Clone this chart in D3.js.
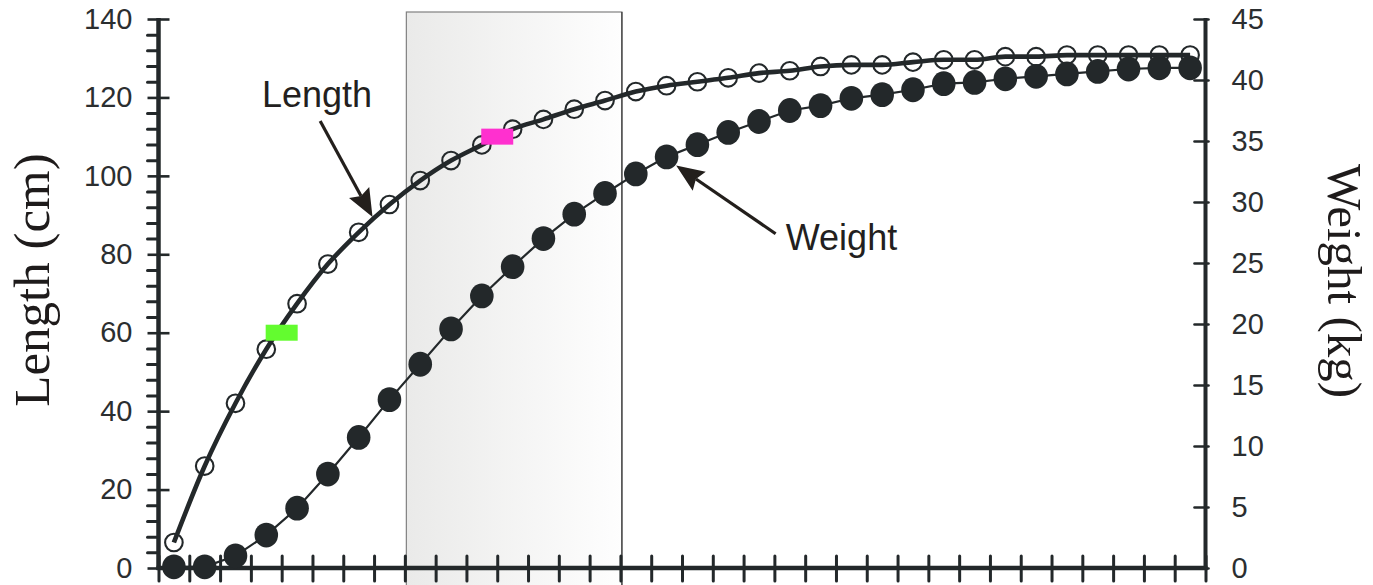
<!DOCTYPE html>
<html>
<head>
<meta charset="utf-8">
<script src="https://cdn.jsdelivr.net/npm/d3@7"></script>
<style>
  html, body { margin: 0; padding: 0; background: #ffffff; }
  svg { display: block; }
</style>
</head>
<body>
<svg id="chart" width="1373" height="585"></svg>
<script>
// Age (x position of each measurement, mid-interval)
const ages = [0.5, 1.5, 2.5, 3.5, 4.5, 5.5, 6.5, 7.5, 8.5, 9.5,
              10.5, 11.5, 12.5, 13.5, 14.5, 15.5, 16.5, 17.5, 18.5, 19.5,
              20.5, 21.5, 22.5, 23.5, 24.5, 25.5, 26.5, 27.5, 28.5, 29.5,
              30.5, 31.5, 32.5, 33.5];

// Body length (cm)
const lengthCm = [6.5, 26.0, 42.0, 55.8, 67.4, 77.5, 85.6, 92.7, 98.8, 103.9,
                  107.9, 111.9, 114.4, 117.0, 119.2, 121.5, 123.0, 124.0, 125.0, 126.2,
                  126.8, 127.9, 128.3, 128.3, 129.0, 129.6, 129.6, 130.4, 130.4, 130.8,
                  130.8, 130.8, 130.8, 130.8];

// Body weight (kg)
const weightKg = [0.1, 0.1, 1.0, 2.7, 4.9, 7.7, 10.7, 13.8, 16.7, 19.6,
                  22.3, 24.7, 27.0, 29.0, 30.7, 32.3, 33.7, 34.7, 35.7, 36.6,
                  37.5, 37.9, 38.5, 38.8, 39.2, 39.7, 39.8, 40.1, 40.3, 40.5,
                  40.7, 40.9, 41.0, 41.0];

// Tick values
const lengthTicks = [0, 20, 40, 60, 80, 100, 120, 140];
const lengthMinorTicks = [4, 8, 12, 16, 24, 28, 32, 36, 44, 48, 52, 56, 64, 68, 72, 76,
                          84, 88, 92, 96, 104, 108, 112, 116, 124, 128, 132, 136];
const weightTicks = [0, 5, 10, 15, 20, 25, 30, 35, 40, 45];
const ageTicks = [0, 1, 2, 3, 4, 5, 6, 7, 8, 9, 10, 11, 12, 13, 14, 15, 16, 17,
                  18, 19, 20, 21, 22, 23, 24, 25, 26, 27, 28, 29, 30, 31, 32, 33, 34];

// Shaded age window and the two highlighted length marks
const shadedAges = [8, 15];
const highlightAges = [4, 11];
const highlightLengths = [60, 110];

// Labels
const axisTitles = ["Length (cm)", "Weight (kg)"];
const seriesLabels = ["Length", "Weight"];
// Annotation anchors in data units: [labelAge, labelValue, tailAge, tailValue, tipAge, tipValue]
const lengthNote = [3.36, 117.6, 5.25, 114.0, 6.95, 89.5];
const weightNote = [20.37, 26.1, 20.04, 27.4, 16.81, 33.0];

const svg = d3.select("#chart");
const ink = "#23282a";
const sans = "'Liberation Sans', Arial, sans-serif";
const serif = "'Liberation Serif', 'Times New Roman', serif";

const x = d3.scaleLinear().domain([0, 34]).range([158.5, 1205.5]);
const yL = d3.scaleLinear().domain([0, 140]).range([568, 19]);
const yR = d3.scaleLinear().domain([0, 45]).range([568, 19]);

// Shaded window with a left-to-right fade
const defs = svg.append("defs");
const grad = defs.append("linearGradient").attr("id", "shade")
  .attr("x1", "0%").attr("x2", "100%").attr("y1", "0%").attr("y2", "0%");
grad.append("stop").attr("offset", "0%").attr("stop-color", "#eaeae9");
grad.append("stop").attr("offset", "100%").attr("stop-color", "#fefefe");

const boxTop = 12;
svg.append("rect")
  .attr("x", x(shadedAges[0]) + 1.5).attr("y", boxTop)
  .attr("width", x(shadedAges[1]) - x(shadedAges[0]))
  .attr("height", 620 - boxTop)
  .attr("fill", "url(#shade)")
  .attr("stroke", "#808080").attr("stroke-width", 1.2);
svg.append("line")
  .attr("x1", x(shadedAges[1]) + 1.5).attr("x2", x(shadedAges[1]) + 1.5)
  .attr("y1", boxTop).attr("y2", 620)
  .attr("stroke", "#2e2e2e").attr("stroke-width", 1.1);

// Left axis (length)
const gL = svg.append("g").attr("transform", `translate(${x(0)},0)`);
gL.call(d3.axisLeft(yL).tickValues(lengthMinorTicks).tickSize(11).tickFormat(""))
  .call(g => g.select(".domain").remove());
gL.selectAll(".tick line").attr("stroke", ink).attr("stroke-width", 3).attr("stroke-linecap", "round");
const gLM = svg.append("g").attr("transform", `translate(${x(0)},0)`);
gLM.call(d3.axisLeft(yL).tickValues(lengthTicks).tickSize(11).tickPadding(15).tickFormat(d3.format("d")))
  .call(g => g.select(".domain").remove());
gLM.selectAll(".tick line").attr("x1", 11).attr("x2", -11)
  .attr("stroke", ink).attr("stroke-width", 2.6);
gLM.selectAll(".tick text").attr("font-family", sans).attr("font-size", 29).attr("fill", "#2b2e30");

// Right axis (weight)
const gR = svg.append("g").attr("transform", `translate(${x(34)},0)`);
gR.call(d3.axisRight(yR).tickValues(weightTicks).tickSize(3).tickPadding(23).tickFormat(d3.format("d")))
  .call(g => g.select(".domain").remove());
gR.selectAll(".tick line").attr("x1", -11).attr("x2", 3)
  .attr("stroke", ink).attr("stroke-width", 2.6).attr("stroke-linecap", "round");
gR.selectAll(".tick text").attr("font-family", sans).attr("font-size", 29).attr("fill", "#2b2e30");

// Bottom axis (age)
const gB = svg.append("g").attr("transform", `translate(0,${yL(0)})`);
gB.call(d3.axisBottom(x).tickValues(ageTicks).tickSize(13).tickFormat(""))
  .call(g => g.select(".domain").remove());
gB.selectAll(".tick line").attr("y1", -12).attr("y2", 13)
  .attr("stroke", ink).attr("stroke-width", 3).attr("stroke-linecap", "round");

// Axis spines
svg.append("line").attr("x1", x(0)).attr("x2", x(0)).attr("y1", yL(140) - 1).attr("y2", yL(0) + 2)
  .attr("stroke", ink).attr("stroke-width", 4.5);
svg.append("line").attr("x1", x(34)).attr("x2", x(34)).attr("y1", yR(45) - 1).attr("y2", yR(0) + 2)
  .attr("stroke", ink).attr("stroke-width", 4);
svg.append("line").attr("x1", x(0) - 2).attr("x2", x(34) + 2).attr("y1", yL(0)).attr("y2", yL(0))
  .attr("stroke", ink).attr("stroke-width", 4.5);

const lenData = ages.map((a, i) => ({ a, v: lengthCm[i] }));
const wtData = ages.map((a, i) => ({ a, v: weightKg[i] }));

// Length curve and open markers
svg.append("path").datum(lenData)
  .attr("d", d3.line().x(d => x(d.a)).y(d => yL(d.v)).curve(d3.curveMonotoneX))
  .attr("fill", "none").attr("stroke", ink).attr("stroke-width", 4.6);
svg.append("g").selectAll("circle").data(lenData).join("circle")
  .attr("cx", d => x(d.a)).attr("cy", d => yL(d.v)).attr("r", 8.8)
  .attr("fill", "none").attr("stroke", ink).attr("stroke-width", 2.1);

// Weight line and filled markers
svg.append("path").datum(wtData)
  .attr("d", d3.line().x(d => x(d.a)).y(d => yR(d.v)))
  .attr("fill", "none").attr("stroke", ink).attr("stroke-width", 2.2);
svg.append("g").selectAll("ellipse").data(wtData).join("ellipse")
  .attr("cx", d => x(d.a)).attr("cy", d => yR(d.v)).attr("rx", 11.8).attr("ry", 12.4)
  .attr("fill", ink);

// Highlighted lengths
const hlColors = ["#63fc2f", "#ff30cf"];
svg.append("g").selectAll("rect").data(highlightAges).join("rect")
  .attr("x", (d, i) => x(d) - 16).attr("y", (d, i) => yL(highlightLengths[i]) - 8)
  .attr("width", 32).attr("height", 16)
  .attr("fill", (d, i) => hlColors[i]);

// Annotation arrows
function arrow(x0, y0, x1, y1) {
  const dx = x1 - x0, dy = y1 - y0, len = Math.hypot(dx, dy);
  const ux = dx / len, uy = dy / len, px = -uy, py = ux;
  const headLen = 28, half = 11.5, notch = 4;
  const bx = x1 - ux * headLen, by = y1 - uy * headLen;
  svg.append("line").attr("x1", x0).attr("y1", y0)
    .attr("x2", bx + ux * notch).attr("y2", by + uy * notch)
    .attr("stroke", "#231f1c").attr("stroke-width", 3.2);
  const pts = [[x1, y1], [bx + px * half, by + py * half],
               [bx + ux * notch, by + uy * notch], [bx - px * half, by - py * half]];
  svg.append("polygon").attr("points", pts.map(p => p.join(",")).join(" "))
    .attr("fill", "#231f1c");
}
arrow(x(lengthNote[2]), yL(lengthNote[3]), x(lengthNote[4]), yL(lengthNote[5]));
arrow(x(weightNote[2]), yR(weightNote[3]), x(weightNote[4]), yR(weightNote[5]));

svg.append("text").attr("x", x(lengthNote[0])).attr("y", yL(lengthNote[1]))
  .attr("font-family", sans).attr("font-size", 36).attr("fill", "#231f20")
  .text(seriesLabels[0]);
svg.append("text").attr("x", x(weightNote[0])).attr("y", yR(weightNote[1]))
  .attr("font-family", sans).attr("font-size", 36).attr("fill", "#231f20")
  .text(seriesLabels[1]);

// Axis titles
svg.append("text")
  .attr("transform", "translate(49,280) rotate(-90)")
  .attr("text-anchor", "middle")
  .attr("font-family", serif).attr("font-size", 51).attr("fill", "#1e1b1b")
  .text(axisTitles[0]);
svg.append("text")
  .attr("transform", "translate(1328,281) rotate(90)")
  .attr("text-anchor", "middle")
  .attr("font-family", serif).attr("font-size", 49).attr("fill", "#1e1b1b")
  .text(axisTitles[1]);
</script>
</body>
</html>
